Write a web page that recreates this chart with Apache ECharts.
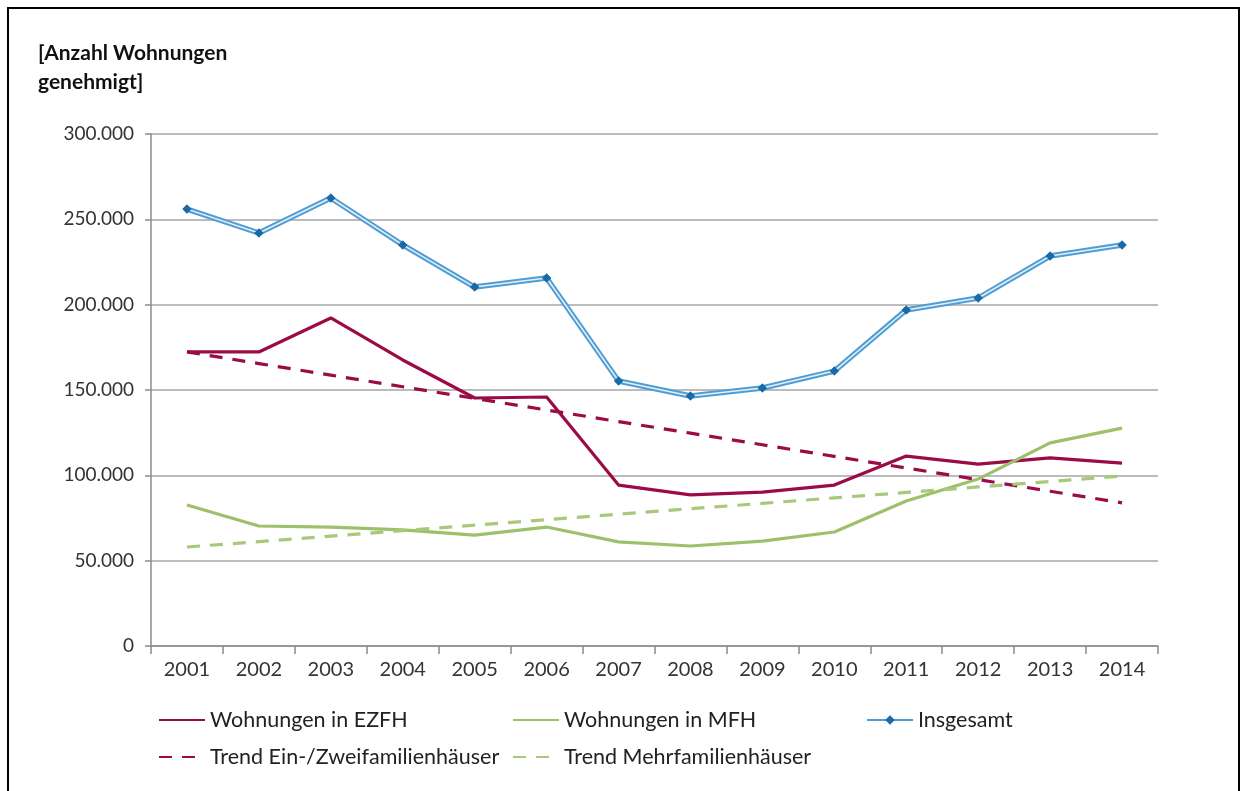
<!DOCTYPE html>
<html>
<head>
<meta charset="utf-8">
<script src="https://cdn.jsdelivr.net/npm/echarts@6/dist/echarts.min.js"></script>
<style>
  html, body { margin: 0; padding: 0; background: #fff; }
  #frame {
    position: absolute; left: 7px; top: 7px; width: 1229px; height: 800px;
    border-left: 2px solid #000; border-top: 2px solid #000; border-right: 2px solid #000;
  }
  #chart { position: absolute; left: 0; top: 0; width: 1245px; height: 791px; }
</style>
</head>
<body>
<div id="frame"></div>
<div id="chart"></div>
<script>
// Jahre
const years = ['2001', '2002', '2003', '2004', '2005', '2006', '2007',
  '2008', '2009', '2010', '2011', '2012', '2013', '2014'];

// genehmigte Wohnungen
const ezfh = [172300, 172300, 192200, 167600, 145300, 145900, 94300,
  88500, 90200, 94300, 111300, 106600, 110200, 107200];
const mfh = [82600, 70300, 69700, 68000, 65000, 69700, 61000,
  58600, 61500, 66800, 85000, 97800, 119000, 127700];
const insgesamt = [256000, 242000, 262500, 235000, 210300, 215600, 155300,
  146500, 151200, 161100, 196900, 203900, 228500, 235000];
const trendEzfh = [172300, 165500, 158700, 151900, 145100, 138300, 131500,
  124700, 117900, 111100, 104300, 97500, 90700, 83900];
const trendMfh = [58000, 61200, 64400, 67600, 70800, 74000, 77200,
  80400, 83600, 86800, 90000, 93200, 96400, 99600];

const yTicks = [0, 50000, 100000, 150000, 200000, 250000, 300000];

const crimson = '#9b0c47';
const green = '#9dc16a';
const fontFam = 'Lato, "Open Sans", sans-serif';

const chart = echarts.init(document.getElementById('chart'));

function fmt(v) {
  return v === 0 ? '0' : String(v).replace(/\B(?=(\d{3})+(?!\d))/g, '.');
}

const legendText = { fontSize: 21.5, color: '#222', fontFamily: fontFam };
// nur Linie im Legendensymbol, kein Punkt
const noDot = name => ({ name: name, itemStyle: { opacity: 0 } });

chart.setOption({
  animation: false,
  title: {
    text: '[Anzahl Wohnungen\ngenehmigt]',
    left: 33,
    top: 34,
    textStyle: { fontSize: 21, fontWeight: 'bold', color: '#111', fontFamily: fontFam, lineHeight: 29 }
  },
  legend: [
    {
      data: [noDot('Wohnungen in EZFH'), noDot('Trend Ein-/Zweifamilienhäuser')],
      orient: 'vertical', left: 158, top: 709, itemGap: 15,
      itemWidth: 46, itemHeight: 12, textStyle: legendText, padding: 0
    },
    {
      data: [noDot('Wohnungen in MFH'), noDot('Trend Mehrfamilienhäuser')],
      orient: 'vertical', left: 512, top: 709, itemGap: 15,
      itemWidth: 46, itemHeight: 12, textStyle: legendText, padding: 0
    },
    {
      data: ['Insgesamt'],
      orient: 'vertical', left: 866, top: 709,
      itemWidth: 46, itemHeight: 12, textStyle: legendText, padding: 0
    }
  ],
  grid: { left: 151, right: 87, top: 134, bottom: 145 },
  xAxis: {
    type: 'category',
    data: years,
    boundaryGap: true,
    axisLine: { lineStyle: { color: '#8c8c8c', width: 1.5 } },
    axisTick: { show: true, length: 8, lineStyle: { color: '#8c8c8c', width: 1.5 } },
    axisLabel: { fontSize: 20, color: '#333', fontFamily: fontFam, margin: 14 }
  },
  yAxis: {
    type: 'value',
    min: 0, max: 300000, interval: 50000,
    axisLine: { show: true, lineStyle: { color: '#8c8c8c', width: 1.5 } },
    axisTick: { show: true, length: 6, lineStyle: { color: '#8c8c8c', width: 1.5 } },
    axisLabel: {
      fontSize: 19, color: '#333', fontFamily: fontFam, margin: 17,
      formatter: v => yTicks.includes(v) ? fmt(v) : ''
    },
    splitLine: { lineStyle: { color: '#a6a6a6', width: 1.5 } }
  },
  series: [
    {
      name: 'Wohnungen in EZFH', type: 'line', data: ezfh,
      symbol: 'none', lineStyle: { color: crimson, width: 3.2 }, itemStyle: { color: crimson }
    },
    {
      name: 'Wohnungen in MFH', type: 'line', data: mfh,
      symbol: 'none', lineStyle: { color: green, width: 3.2 }, itemStyle: { color: green }
    },
    {
      name: 'Insgesamt', type: 'line', data: insgesamt,
      symbol: 'diamond', symbolSize: 9,
      lineStyle: { color: '#4f9dd2', width: 5.5 }, itemStyle: { color: '#1b6aa8' }
    },
    {
      name: 'Insgesamt', type: 'line', data: insgesamt,
      symbol: 'diamond', symbolSize: 9, z: 3,
      lineStyle: { color: '#e4f0f9', width: 1.5 }, itemStyle: { color: '#1b6aa8' }
    },
    {
      name: 'Trend Ein-/Zweifamilienhäuser', type: 'line', data: trendEzfh,
      symbol: 'none', lineStyle: { color: crimson, width: 3.2, type: [13, 10] }, itemStyle: { color: crimson }
    },
    {
      name: 'Trend Mehrfamilienhäuser', type: 'line', data: trendMfh,
      symbol: 'none', lineStyle: { color: '#a8c97b', width: 3.2, type: [13, 10] }, itemStyle: { color: '#a8c97b' }
    }
  ]
});
</script>
</body>
</html>
